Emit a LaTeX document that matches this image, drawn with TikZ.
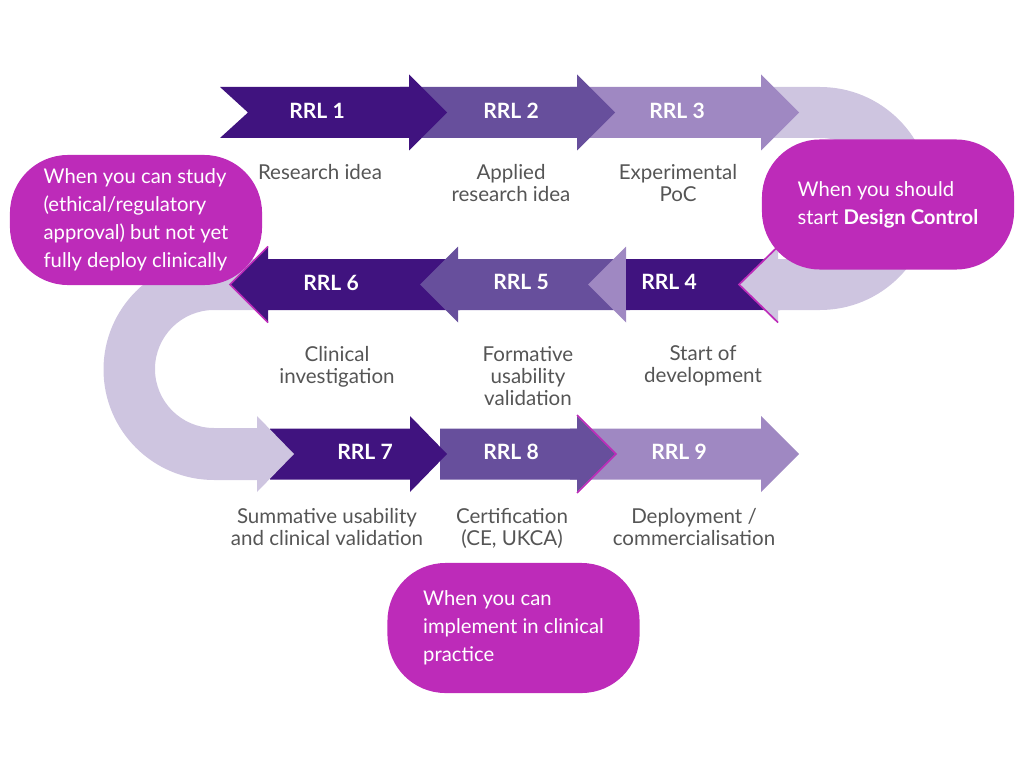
\documentclass[tikz,border=0pt]{standalone}
\usepackage{fontspec}
\setmainfont{Lato}
\usepackage{xcolor}

\definecolor{rrldark}{HTML}{40137F}
\definecolor{rrlmid}{HTML}{674F9C}
\definecolor{rrllight}{HTML}{9F88C2}
\definecolor{rrlpale}{HTML}{CEC5E0}
\definecolor{rrlpink}{HTML}{BD2BB9}
\definecolor{rrltext}{HTML}{555555}

% one level arrow: colour, tail x, head back x, tip x, centre y
\newcommand{\rrlarrow}[5]{%
  \fill[#1] (#2,#5-25.5) -- (#3,#5-25.5) -- (#3,#5-38) -- (#4,#5)
    -- (#3,#5+38) -- (#3,#5+25.5) -- (#2,#5+25.5) -- cycle;}

\begin{document}
\begin{tikzpicture}[
  x=0.025cm, y=-0.025cm,
  rrl/.style={text=white, font=\fontsize{15}{18}\selectfont\bfseries},
  desc/.style={text=rrltext, align=center,
               font=\fontsize{14.6}{15.6}\selectfont},
  bubble/.style={fill=rrlpink, text=white, rounded corners=1.45cm,
                 minimum width=6.3cm, minimum height=3.25cm,
                 align=left, font=\fontsize{14.4}{19.9}\selectfont},
  pinkrim/.style={draw=rrlpink, line width=1.2pt},
]
  \useasboundingbox (0,0) rectangle (1024,768);

  % row 3
  \rrlarrow{rrllight}{570}{761}{799}{454}
  \rrlarrow{rrlmid}{440}{577}{615}{454}
  \draw[pinkrim] (577,415) -- (616,454) -- (577,493);
  \rrlarrow{rrldark}{270}{410}{447}{454}

  % left turn
  \fill[rrlpale] (270,259) -- (214,259)
    arc[start angle=-90, end angle=-270, radius=110.5]
    -- (257,480) -- (257,492) -- (294,454) -- (257,416) -- (257,428)
    -- (214,428) arc[start angle=90, end angle=270, radius=59]
    -- (270,310) -- cycle;

  % row 2
  \rrlarrow{rrldark}{460}{268}{230}{284.5}
  \draw[pinkrim] (268,246.5) -- (230,284.5) -- (268,322.5);
  \rrlarrow{rrlmid}{630}{458}{420}{284.5}
  \rrlarrow{rrllight}{780}{626}{588}{284.5}
  \fill[rrldark] (626,259) rectangle (780,310);

  % right turn
  \fill[rrlpale] (770,87) -- (820,87)
    arc[start angle=-90, end angle=90, radius=111.5]
    -- (778,310) -- (778,322.5) -- (739,284.5) -- (778,246.5) -- (778,259)
    -- (820,259) arc[start angle=90, end angle=-90, radius=60.5]
    -- (770,138) -- cycle;
  \draw[pinkrim] (778,246.5) -- (739,284.5) -- (778,322.5);

  % row 1
  \rrlarrow{rrllight}{570}{761}{799}{112.5}
  \rrlarrow{rrlmid}{400}{577}{615}{112.5}
  \fill[rrldark] (220,87) -- (409,87) -- (409,74.5) -- (447,112.5)
    -- (409,150.5) -- (409,138) -- (220,138) -- (248,112.5) -- cycle;

  \node[rrl] (rrl1) at (317,111) {RRL 1};
  \node[rrl] (rrl2) at (511,111) {RRL 2};
  \node[rrl] (rrl3) at (677,111) {RRL 3};
  \node[rrl] (rrl4) at (669,282) {RRL 4};
  \node[rrl] (rrl5) at (521,282) {RRL 5};
  \node[rrl] (rrl6) at (331,283) {RRL 6};
  \node[rrl] (rrl7) at (365,452) {RRL 7};
  \node[rrl] (rrl8) at (511,452) {RRL 8};
  \node[rrl] (rrl9) at (679,452) {RRL 9};

  \node[desc] (idea)   at (320,172) {Research idea};
  \node[desc] (applied) at (511,183) {Applied\\research idea};
  \node[desc] (poc)    at (678,183) {Experimental\\PoC};
  \node[desc] (devel)  at (703,366) {Start of\\development};
  \node[desc] (format) at (528,376) {Formative\\usability\\validation};
  \node[desc] (clinic) at (337,367) {Clinical\\investigation};
  \node[desc] (summat) at (327,527) {Summative usability\\and clinical validation};
  \node[desc] (certif) at (512,528) {Certification\\(CE, UKCA)};
  \node[desc] (deploy) at (694,527) {Deployment /\\commercialisation};

  \node[bubble] (studybubble) at (136,220)
    {When you can study\\(ethical/regulatory\\approval) but not yet\\fully deploy clinically};
  \node[bubble] (designbubble) at (888,204.5)
    {When you should\\start \textbf{Design Control}};
  \node[bubble] (practicebubble) at (513.5,628)
    {When you can\\implement in clinical\\practice};
\end{tikzpicture}
\end{document}
